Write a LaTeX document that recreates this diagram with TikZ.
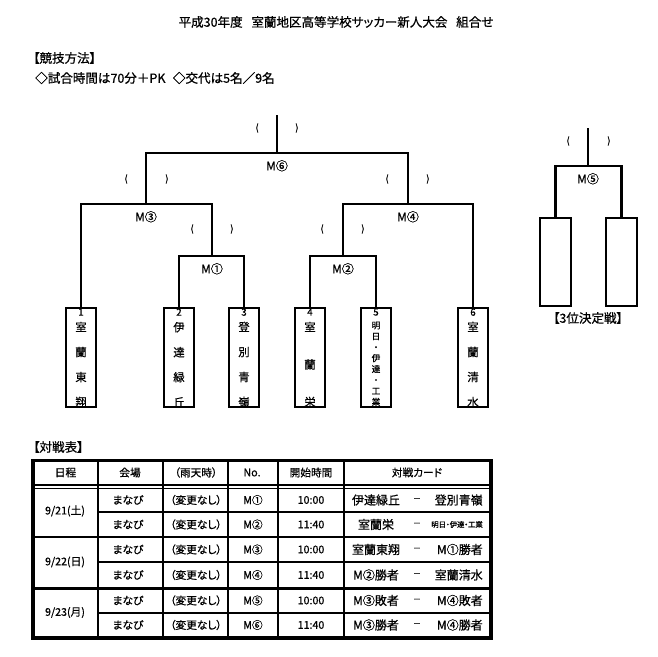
\documentclass[tikz,border=0pt]{standalone}
\usepackage{fontspec}
\setmainfont{Noto Sans CJK JP}[RawFeature=+palt, FakeBold=0.8]
\usetikzlibrary{positioning}
\tikzstyle{maintitle} = [inner sep=0pt, font=\fontsize{9.4}{11}\selectfont]
\tikzstyle{heading} = [inner sep=0pt, font=\fontsize{9.4}{11}\selectfont]
\tikzstyle{team} = [draw, line width=1.7pt, minimum width=23pt, minimum height=74pt, inner sep=0pt]
\tikzstyle{num} = [anchor=north, inner sep=1pt, font=\fontsize{7.3}{8}\selectfont]
\tikzstyle{teamname} = [align=center, inner sep=0pt, font=\fontsize{8.5}{18.75}\selectfont]
\tikzstyle{bracket} = [line width=1.7pt]
\tikzstyle{mlabel} = [inner sep=0pt, font=\fontsize{9}{10}\selectfont]
\tikzstyle{paren} = [inner sep=0pt, font=\fontsize{7}{8}\selectfont]
\tikzstyle{cell} = [inner sep=0pt, font=\fontsize{8}{9}\selectfont]
\tikzstyle{card} = [inner sep=0pt, font=\fontsize{9}{10}\selectfont]

\begin{document}
\begin{tikzpicture}[x=0.75pt, y=-0.75pt, node distance=5.2pt]
\useasboundingbox (0,0) rectangle (658,657);

\node[maintitle] (title) at (336,22) {平成30年度\hspace{0.7em}室蘭地区高等学校サッカー新人大会\hspace{0.7em}組合せ};
\node[heading, anchor=west] (rules) at (33,58) {【競技方法】};
\node[heading, anchor=west] (rulestext) at (35,78) {◇試合時間は70分＋PK\hspace{0.6em}◇交代は5名／9名};

% teams
\node[team] (t1) at (81,357.5) {};
\node[team] (t2) at (179,357.5) {};
\node[team] (t3) at (244,357.5) {};
\node[team] (t4) at (310,357.5) {};
\node[team] (t5) at (376,357.5) {};
\node[team] (t6) at (473,357.5) {};

\node[num] (k1) at (t1.north) {1};
\node[num] (k2) at (t2.north) {2};
\node[num] (k3) at (t3.north) {3};
\node[num] (k4) at (t4.north) {4};
\node[num] (k5) at (t5.north) {5};
\node[num] (k6) at (t6.north) {6};

\node[teamname] (n1) at ([yshift=-5.25pt]t1.center) {室\\蘭\\東\\翔};
\node[teamname] (n2) at ([yshift=-5.25pt]t2.center) {伊\\達\\緑\\丘};
\node[teamname] (n3) at ([yshift=-5.25pt]t3.center) {登\\別\\青\\嶺};
\node[teamname, font=\fontsize{8.5}{28.1}\selectfont] (n4) at ([yshift=-5.25pt]t4.center) {室\\蘭\\栄};
\node[teamname, font=\fontsize{6.5}{8.2}\selectfont] (n5) at ([yshift=-4.7pt]t5.center) {明\\日\\・\\伊\\達\\・\\工\\業};
\node[teamname] (n6) at ([yshift=-5.25pt]t6.center) {室\\蘭\\清\\水};

% 3rd place
\node[team, minimum height=65.8pt] (b1) at (555.5,262) {};
\node[team, minimum height=65.8pt] (b2) at (621.5,262) {};
\node[heading] (third) at (588,318) {【3位決定戦】};

% match points
\coordinate (m1) at (212,256);
\coordinate (m2) at (343,256);
\coordinate (m3) at (146,204);
\coordinate (m4) at (408,204);
\coordinate (m6) at (277,153);
\coordinate (top6) at (277,115);
\coordinate (m5) at (588,166);
\coordinate (top5) at (588,128);

\draw[bracket] (t2.north) |- (m1) -| (t3.north);
\draw[bracket] (t4.north) |- (m2) -| (t5.north);
\draw[bracket] (t1.north) |- (m3) -| (m1);
\draw[bracket] (m2) |- (m4) -| (t6.north);
\draw[bracket] (m3) |- (m6) -| (m4);
\draw[bracket] (m6) -- (top6);
\draw[bracket] (b1.north) |- (m5) -| (b2.north);
\draw[bracket] (m5) -- (top5);

\node[mlabel, below=of m1] (l1) {M①};
\node[mlabel, below=of m2] (l2) {M②};
\node[mlabel, below=of m3] (l3) {M③};
\node[mlabel, below=of m4] (l4) {M④};
\node[mlabel, below=of m5] (l5) {M⑤};
\node[mlabel, below=of m6] (l6) {M⑥};

\node[paren] (p6a) at (257,128) {(};  \node[paren] (p6b) at (297,128) {)};
\node[paren] (p3a) at (126,179) {(};  \node[paren] (p3b) at (167,179) {)};
\node[paren] (p4a) at (387,179) {(};  \node[paren] (p4b) at (428,179) {)};
\node[paren] (p1a) at (192,229) {(};  \node[paren] (p1b) at (232,229) {)};
\node[paren] (p2a) at (322,229) {(};  \node[paren] (p2b) at (363,229) {)};
\node[paren] (p5a) at (568,141) {(};  \node[paren] (p5b) at (609,141) {)};

% table
\node[heading, anchor=west] (tabtitle) at (33,447) {【対戦表】};
\draw[line width=2.4pt] (33,460.5) rectangle (491,638);
\draw[line width=1.1pt] (33,485) -- (491,485) (33,488.7) -- (491,488.7);
\draw[line width=1.6pt] (98,460.5) -- (98,638) (163,460.5) -- (163,638) (228,460.5) -- (228,638)
  (278,460.5) -- (278,638) (344,460.5) -- (344,638);
\draw[line width=1.5pt] (98,512) -- (491,512) (98,562) -- (491,562) (98,612.7) -- (491,612.7);
\draw[line width=2pt] (33,537) -- (491,537) (33,588.7) -- (491,588.7);

\node[cell] (h1) at (65.5,472.5) {日程};
\node[cell] (h2) at (130,472.5) {会場};
\node[cell] (h3) at (196,472.5) {（雨天時）};
\node[cell] (h4) at (252,472.5) {No.};
\node[cell] (h5) at (311,472.5) {開始時間};
\node[cell] (h6) at (417,472.5) {対戦カード};

\node[cell] (d1) at (65,511) {9/21(土)};
\node[cell] (d2) at (65,562) {9/22(日)};
\node[cell] (d3) at (65,612.5) {9/23(月)};

\foreach \row/\y/\m/\tm/\lft/\rgt in {1/500/①/10:00/伊達緑丘/登別青嶺,
    2/524.5/②/11:40/室蘭栄/{\fontsize{5.5}{6}\selectfont 明日・伊達・工業},
    3/549.5/③/10:00/室蘭東翔/M①勝者, 4/575/④/11:40/M②勝者/室蘭清水,
    5/600.5/⑤/10:00/M③敗者/M④敗者, 6/625/⑥/11:40/M③勝者/M④勝者} {
  \node[cell] (venue\row) at (128,\y) {まなび};
  \node[cell] (rain\row) at (196,\y) {（変更なし）};
  \node[cell] (no\row) at (253,\y) {M\m};
  \node[cell] (time\row) at (311,\y) {\tm};
  \node[card] (home\row) at (376,\y) {\lft};
  \node[card, font=\fontsize{6}{7}\selectfont] (dash\row) at (417,\y) {－};
  \node[card, anchor=east] (away\row) at (483,\y) {\rgt};
}
\end{tikzpicture}
\end{document}
